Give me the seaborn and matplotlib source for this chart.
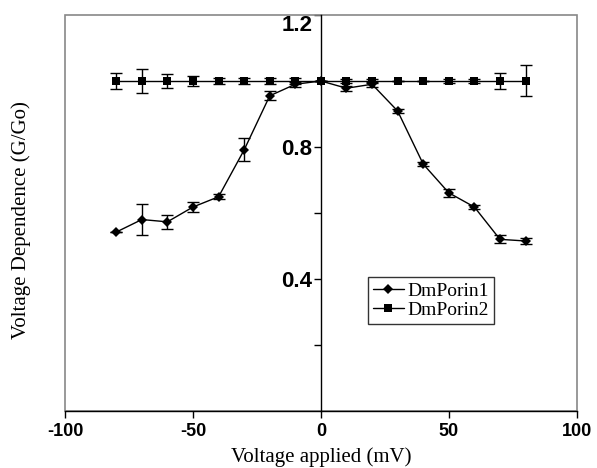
import numpy as np
import pandas as pd
import matplotlib
matplotlib.use('Agg')
import matplotlib.pyplot as plt
import seaborn as sns
from matplotlib.patches import Rectangle

# data
voltage = [-80, -70, -60, -50, -40, -30, -20, -10, 0, 10, 20, 30, 40, 50, 60, 70, 80]
porin1 = [0.542, 0.58, 0.573, 0.618, 0.649, 0.791, 0.955, 0.99, 1.0, 0.978, 0.99,
          0.909, 0.748, 0.661, 0.618, 0.52, 0.515]
porin1_err = [0.0, 0.048, 0.022, 0.014, 0.008, 0.035, 0.014, 0.008, 0.0, 0.008, 0.008,
              0.006, 0.006, 0.012, 0.006, 0.012, 0.01]
porin2 = [1.0] * 17
porin2_err = [0.025, 0.035, 0.022, 0.015, 0.008, 0.008, 0.01, 0.008, 0.0, 0.006, 0.006,
              0.0, 0.0, 0.006, 0.006, 0.025, 0.047]
xtick_vals = [-100, -50, 0, 50, 100]
xtick_labels = ['-100', '-50', '0', '50', '100']
ytick_vals = [0.2, 0.4, 0.6, 0.8, 1.0, 1.2]
ytick_labels = ['', '0.4', '', '0.8', '', '1.2']

df = pd.DataFrame({'V': voltage * 2,
                   'G': porin1 + porin2,
                   'err': porin1_err + porin2_err,
                   'series': ['DmPorin1'] * 17 + ['DmPorin2'] * 17})

sns.set_style('white')
plt.rcParams['axes.unicode_minus'] = False
fig = plt.figure(figsize=(5.97, 4.68), dpi=100)
ax = fig.add_axes([0.109, 0.122, 0.857, 0.846])

sns.lineplot(data=df, x='V', y='G', hue='series', style='series',
             markers={'DmPorin1': 'D', 'DmPorin2': 's'}, dashes=False,
             palette={'DmPorin1': 'black', 'DmPorin2': 'black'},
             markersize=5.5, linewidth=1.0, markeredgewidth=0, ax=ax)
for name, g in df.groupby('series'):
    ax.errorbar(g['V'], g['G'], yerr=g['err'], fmt='none', ecolor='black',
                elinewidth=1.0, capsize=4, capthick=1.0)

# y axis sits at x = 0 (do this before styling tick labels, it resets ticks)
ax.spines['left'].set_position(('data', 0))
ax.spines['top'].set_visible(False)
ax.spines['right'].set_visible(False)
for s in ['left', 'bottom']:
    ax.spines[s].set_color('black')
    ax.spines[s].set_linewidth(1.0)
ax.add_patch(Rectangle((0, 0), 1, 1, transform=ax.transAxes, fill=False,
                       edgecolor='#888888', linewidth=1.2, clip_on=False))

ax.set_xlim(-100, 100)
ax.set_ylim(0, 1.2)
ax.set_xticks(xtick_vals)
ax.set_xticklabels(xtick_labels, fontfamily='Liberation Sans', fontweight='bold',
                   fontsize=13, color='black')
ax.set_yticks(ytick_vals)
ax.set_yticklabels(ytick_labels, fontfamily='Liberation Sans', fontweight='bold',
                   fontsize=16, color='black')
ax.get_yticklabels()[-1].set_verticalalignment('top')
ax.tick_params(axis='both', which='major', direction='out', length=5, width=1,
               color='black', bottom=True, left=True)
ax.tick_params(axis='x', pad=4)
ax.tick_params(axis='y', pad=1)

ax.set_xlabel('Voltage applied (mV)', fontfamily='Liberation Serif',
              fontsize=15, labelpad=5, color='black')
ax.set_ylabel('')
fig.text(0.035, 0.53, 'Voltage Dependence (G/Go)', rotation=90, va='center', ha='center',
         fontfamily='Liberation Serif', fontsize=15, color='black')

leg = ax.legend(loc='upper left', bbox_to_anchor=(0.592, 0.338), frameon=True,
                prop={'family': 'Liberation Serif', 'size': 14},
                handlelength=1.6, handletextpad=0.2, borderpad=0.25,
                labelspacing=0.1, fancybox=False, borderaxespad=0)
leg.get_frame().set_edgecolor('black')
leg.get_frame().set_linewidth(1.0)
for t in leg.get_texts():
    t.set_color('black')

fig.savefig('out.png', dpi=100)
